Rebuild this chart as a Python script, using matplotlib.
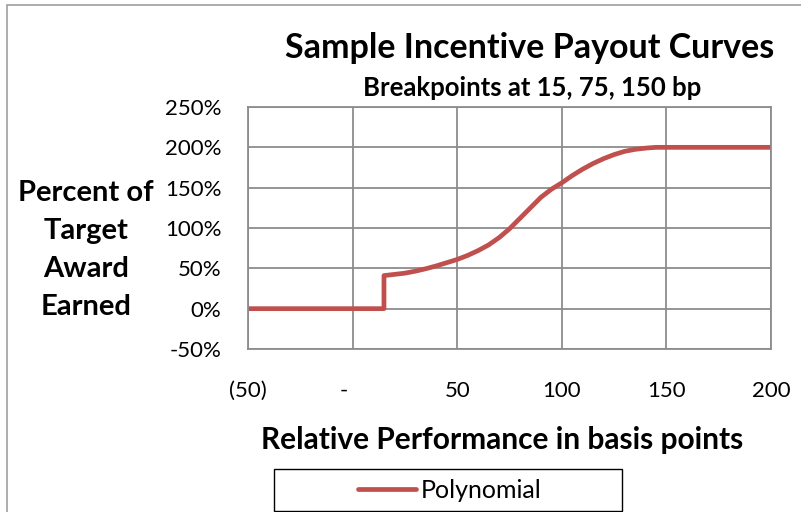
import matplotlib
matplotlib.use("Agg")
import matplotlib.pyplot as plt
from matplotlib.patches import Rectangle

# values (basis points, percent of target)
perf_bp = [-50, 15, 15, 20, 25, 30, 35, 40, 45, 50, 55, 60, 65, 70, 75,
           80, 85, 90, 95, 100, 105, 110, 115, 120, 125, 130, 135, 140, 145, 150, 200]
payout_pct = [0, 0, 41, 42.5, 44, 46.5, 49.5, 53, 57, 61, 66, 72, 79, 88, 99,
              112, 125, 138, 148, 156, 165, 173, 180, 186, 191, 195, 197.5, 199, 200, 200, 200]
x_ticks = [-50, 0, 50, 100, 150, 200]
x_ticklabels = ["(50)", "-   ", "50", "100", "150", "200"]
y_ticks = [-50, 0, 50, 100, 150, 200, 250]

plt.rcParams['font.family'] = ['Lato', 'DejaVu Sans']
red = '#C0504D'
grid = '#8C8C8C'

fig = plt.figure(figsize=(8.01, 5.12), dpi=100)
ax = fig.add_axes([248/801, 1-349/512, 523/801, 242/512])

ax.plot(perf_bp, payout_pct, color=red, lw=3.4, solid_capstyle='round',
        solid_joinstyle='round', label='Polynomial')

ax.set_xlim(-50, 200)
ax.set_ylim(-50, 250)
ax.set_xticks(x_ticks)
ax.set_xticklabels(x_ticklabels)
ax.set_yticks(y_ticks)
ax.set_yticklabels([f"{v}%" for v in y_ticks])
ax.grid(True, color=grid, lw=1.3)
ax.set_axisbelow(True)
for s in ax.spines.values():
    s.set_color(grid)
    s.set_linewidth(1.3)
ax.tick_params(length=0, labelsize=16, colors='black')
ax.tick_params(axis='x', pad=23)
ax.tick_params(axis='y', pad=19)

fig.text(530/801, 1-48/512, "Sample Incentive Payout Curves", ha='center', va='center',
         fontsize=24.5, fontweight='bold')
fig.text(532/801, 1-88/512, "Breakpoints at 15, 75, 150 bp", ha='center', va='center',
         fontsize=18.5, fontweight='bold')
fig.text(86/801, 1-250/512, "Percent of\nTarget\nAward\nEarned", ha='center', va='center',
         fontsize=21, fontweight='bold', linespacing=1.57)
fig.text(502/801, 1-440/512, "Relative Performance in basis points", ha='center', va='center',
         fontsize=21.5, fontweight='bold')

leg = fig.legend(loc='center', bbox_to_anchor=(450/801, 1-490/512), frameon=False,
                 fontsize=18, handlelength=2.3, handletextpad=0.2)

# legend box, wider than its contents like the original
fig.patches.append(Rectangle((274/801, 1-511/512), 348/801, 42/512, transform=fig.transFigure,
                             fill=False, edgecolor='black', lw=1.0))
# outer chart border
fig.patches.append(Rectangle((7/801, -0.1), 1.2, 1-5/512+0.1, transform=fig.transFigure,
                             fill=False, edgecolor='#A0A0A0', lw=1.2))

fig.savefig("out.png", dpi=100)
